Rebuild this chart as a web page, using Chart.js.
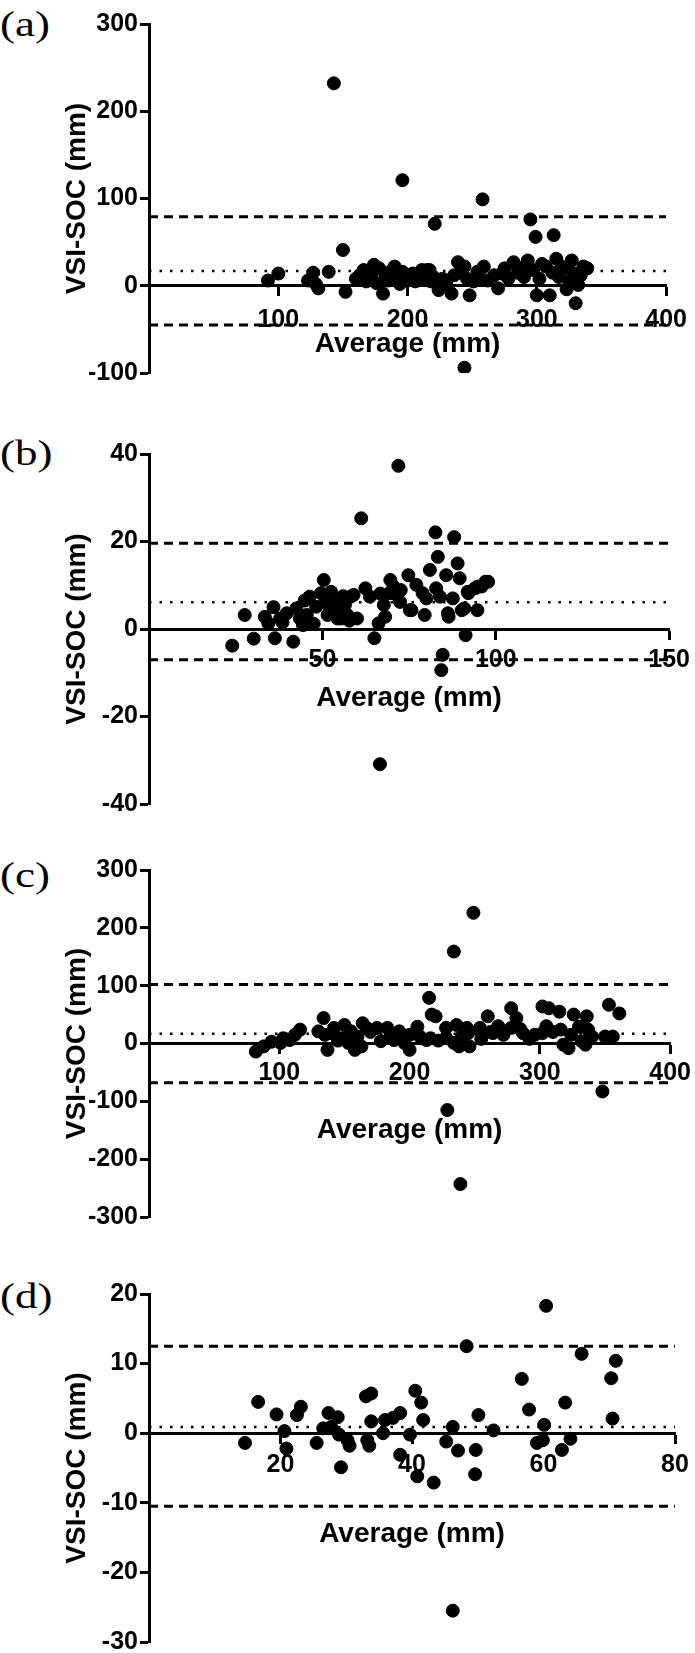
<!DOCTYPE html>
<html><head><meta charset="utf-8">
<script src="https://cdn.jsdelivr.net/npm/chart.js@4.4.1/dist/chart.umd.min.js"></script>
<style>
html,body{margin:0;padding:0;background:#fff;width:695px;height:1653px;overflow:hidden;position:relative;}
canvas{position:absolute;left:0;}
.lbl{position:absolute;left:0;font-family:'Liberation Serif','Times New Roman',serif;font-size:36px;line-height:36px;transform-origin:0 50%;transform:scaleX(1.25);color:#000;white-space:nowrap;}
</style></head><body>
<script>
// ---------- data ----------
const panelLabels = ['(a)', '(b)', '(c)', '(d)'];
const xTitle = 'Average (mm)';
const yTitle = 'VSI-SOC (mm)';

const aXTicks = [0, 100, 200, 300, 400];
const aYTicks = [-100, 0, 100, 200, 300];
const aLines = [79, 17, -45];
const aAvg = [92,100,123,127,131,129,139,143,150,152,160,163,166,168,170,172,174,176,178,181,183,185,188,190,192,194,196,196,199,201,204,206,210,212,215,218,221,211,217,220,224,227,230,234,236,239,241,244,244,246,248,251,254,256,258,259,262,267,270,273,275,278,282,285,287,290,293,295,297,299,300,302,304,307,310,312,313,315,317,319,322,323,325,327,329,330,332,334,336,339];
const aDiff = [6,14,6,15,-3,2,16,232,41,-7,8,12,18,5,10,14,24,3,20,-9,12,6,18,22,8,2,16,121,11,10,14,5,8,12,18,5,71,18,18,10,-5,8,2,-9,12,27,15,22,-94,8,-11,5,16,10,99,22,6,12,-3,14,20,8,27,15,20,10,29,76,18,56,-11,8,25,22,-11,15,58,31,10,22,20,-4,5,29,14,-20,1,12,22,20];

const bXTicks = [0, 50, 100, 150];
const bYTicks = [-40, -20, 0, 20, 40];
const bLines = [19.6, 6.1, -7.0];
const bAvg = [24.0,27.6,30.2,33.4,34.4,35.9,36.3,37.8,38.5,39.7,41.6,42.5,43.5,44.4,44.9,45.5,46.3,47.5,48.2,49.6,50.4,50.9,51.5,52.5,52.9,53.6,54.4,54.8,55.5,56.0,56.5,57.2,57.8,58.2,59.0,60.0,61.2,62.4,63.7,65.0,66.2,66.6,66.7,67.7,68.1,69.4,69.6,70.5,71.4,71.9,72.4,72.6,74.8,75.2,75.7,77.1,78.9,79.5,80.0,81.0,82.6,82.8,83.3,83.9,84.3,84.7,85.7,86.2,86.4,87.6,88.0,89.0,89.6,90.2,90.9,91.3,91.9,92.1,94.0,94.7,94.7,95.9,97.0,97.8];
const bDiff = [-3.8,3.2,-2.2,2.8,1.3,5.0,-2.1,2.4,1.5,3.6,-2.9,4.7,2.4,0.9,6.5,3.2,7.4,1.2,5.1,8.2,11.2,6.0,3.2,8.5,4.0,6.0,2.4,4.7,2.4,7.5,5.5,3.2,1.9,7.4,7.8,2.4,25.3,9.3,7.4,-2.1,1.3,-30.9,8.1,5.5,2.8,8.2,11.2,9.7,7.8,37.3,6.2,8.9,12.3,4.3,4.3,10.1,8.2,3.2,7.0,13.5,22.1,9.3,16.5,7.4,-9.4,-5.9,12.3,3.6,2.8,7.0,21.0,15.0,11.6,4.3,4.7,-1.4,8.5,8.2,9.3,4.3,9.7,9.7,10.8,10.8];

const cXTicks = [0, 100, 200, 300, 400];
const cYTicks = [-300, -200, -100, 0, 100, 200, 300];
const cLines = [102, 17, -68];
const cAvg = [82,88,94,101,103,108,112,116,130,134,135,137,140,142,145,148,150,153,155,158,160,163,164,167,170,175,178,183,185,188,192,196,200,200,206,208,213,215,217,216,220,222,228,228,229,234,234,236,238,239,240,244,245,246,249,254,255,260,262,264,268,272,278,278,282,285,287,292,296,302,302,305,307,310,315,316,318,322,324,326,330,332,335,336,337,340,348,350,353,356,361];
const cDiff = [-14,-5,3,1,9,6,15,24,21,44,15,-11,18,27,5,9,32,1,21,-11,12,-5,35,27,20,27,4,27,10,6,21,1,15,-11,29,12,6,79,50,9,47,5,27,10,-115,1,159,32,-5,-243,12,27,18,-5,226,27,8,47,20,18,30,15,61,27,44,25,18,8,15,64,18,30,61,20,55,24,-2,-8,15,50,29,4,-2,47,24,12,-83,12,67,12,52];

const dXTicks = [0, 20, 40, 60, 80];
const dYTicks = [-30, -20, -10, 0, 10, 20];
const dLines = [12.5, 0.9, -10.5];
const dAvg = [14.6,16.6,19.4,20.6,20.9,22.5,23.1,25.5,26.5,27.3,27.7,28.7,28.9,29.2,30.2,30.5,33.0,33.8,33.2,33.5,33.8,35.6,35.9,37.1,38.2,38.2,39.7,40.5,40.8,41.4,41.7,43.3,45.2,46.2,46.2,47.0,48.3,49.6,49.7,50.1,52.4,56.7,57.8,59.0,59.9,60.1,60.4,62.8,63.3,64.1,65.8,70.3,70.5,71.0];
const dDiff = [-1.4,4.5,2.7,0.3,-2.2,2.6,3.8,-1.4,0.7,2.9,0.9,2.3,-0.2,-4.9,-1.0,-1.8,5.3,5.7,-1.0,-1.8,1.7,0.0,1.9,2.2,2.9,-3.1,-0.2,6.1,-6.2,4.4,1.9,-7.1,-1.2,0.9,-25.5,-2.5,12.5,-5.9,-2.4,2.6,0.4,7.8,3.4,-1.4,-1.0,1.2,18.3,-2.4,4.4,-0.8,11.4,7.9,2.1,10.4];

// ---------- layout (pixels) ----------
const LEFT = 149, RIGHT = 675, CW = 697, PAD = 30, YTITLE_X = 77;
const layoutCfg = [
  {top: 24,   bottom: 373,  labelY: 24,   tickPad: 10, titleOff: 59},
  {top: 454,  bottom: 804,  labelY: 453,  tickPad: 7,  titleOff: 69},
  {top: 870,  bottom: 1217, labelY: 875,  tickPad: 6,  titleOff: 87},
  {top: 1294, bottom: 1642, labelY: 1296, tickPad: 8,  titleOff: 101}
];
const panels = [
  {avg: aAvg, diff: aDiff, lines: aLines, xTicks: aXTicks, yTicks: aYTicks},
  {avg: bAvg, diff: bDiff, lines: bLines, xTicks: bXTicks, yTicks: bYTicks},
  {avg: cAvg, diff: cDiff, lines: cLines, xTicks: cXTicks, yTicks: cYTicks},
  {avg: dAvg, diff: dDiff, lines: dLines, xTicks: dXTicks, yTicks: dYTicks}
];

const FAMILY = "'Liberation Sans', Arial, sans-serif";
const tickFont = {family: FAMILY, size: 25, weight: 'bold', lineHeight: 1.2};
const titleFont = {family: FAMILY, size: 28, weight: 'bold', lineHeight: 1.2};
const lineStyles = [[9, 6], [2.5, 8], [9, 6]];

// vertical axis title drawn without width compression
const yTitlePlugin = {
  id: 'yTitlePlugin',
  afterDraw(chart) {
    const ctx = chart.ctx, a = chart.chartArea;
    ctx.save();
    ctx.translate(YTITLE_X, (a.top + a.bottom) / 2);
    ctx.rotate(-Math.PI / 2);
    ctx.font = 'bold 28px ' + FAMILY;
    ctx.fillStyle = '#000';
    ctx.textAlign = 'center';
    ctx.textBaseline = 'middle';
    ctx.fillText(yTitle, 0, 0);
    ctx.restore();
  }
};

panels.forEach((p, i) => {
  const L = layoutCfg[i];
  const lbl = document.createElement('div');
  lbl.className = 'lbl';
  lbl.textContent = panelLabels[i];
  lbl.style.top = (L.labelY - 18) + 'px';
  document.body.appendChild(lbl);

  const canvas = document.createElement('canvas');
  const h = L.bottom - L.top + 2 * PAD;
  canvas.width = CW; canvas.height = h;
  canvas.style.width = CW + 'px'; canvas.style.height = h + 'px';
  canvas.style.top = (L.top - PAD) + 'px';
  document.body.appendChild(canvas);

  const xMin = p.xTicks[0], xMax = p.xTicks[p.xTicks.length - 1];
  const yMin = p.yTicks[0], yMax = p.yTicks[p.yTicks.length - 1];
  const datasets = [{
    type: 'scatter',
    data: p.avg.map((x, j) => ({x: x, y: p.diff[j]})),
    pointRadius: 6.5, pointHoverRadius: 6.5,
    backgroundColor: '#000', borderColor: '#000', borderWidth: 1,
    order: 0
  }];
  p.lines.forEach((v, k) => {
    datasets.push({
      type: 'line',
      data: [{x: xMin, y: v}, {x: xMax, y: v}],
      borderColor: '#000', borderWidth: k === 1 ? 2.5 : 3,
      borderDash: lineStyles[k], pointRadius: 0, fill: false, order: 1
    });
  });
  const titlePadTop = L.titleOff - (9 + 2 * L.tickPad + 30 + titleFont.size * 1.2 / 2);

  new Chart(canvas, {
    type: 'scatter',
    data: {datasets: datasets},
    plugins: [yTitlePlugin],
    options: {
      responsive: false, animation: false, devicePixelRatio: 1, events: [],
      layout: {padding: {left: 0, right: CW - RIGHT, top: PAD, bottom: PAD}},
      plugins: {legend: {display: false}, tooltip: {enabled: false}},
      scales: {
        x: {
          type: 'linear', position: {y: 0}, min: xMin, max: xMax,
          afterBuildTicks: s => { s.ticks = p.xTicks.map(v => ({value: v})); },
          ticks: {font: tickFont, color: '#000', padding: L.tickPad, maxRotation: 0, autoSkip: false,
                  callback: v => (v === 0 ? '' : String(v))},
          grid: {display: true, drawOnChartArea: false, drawTicks: true, tickLength: 9, tickWidth: 3, color: '#000'},
          border: {display: true, width: 3, color: '#000'},
          title: {display: true, text: xTitle, font: titleFont, color: '#000', padding: {top: titlePadTop, bottom: 0}}
        },
        y: {
          type: 'linear', position: 'left', min: yMin, max: yMax,
          afterBuildTicks: s => { s.ticks = p.yTicks.map(v => ({value: v})); },
          afterFit: s => { s.width = LEFT; },
          ticks: {font: tickFont, color: '#000', padding: 2, autoSkip: false},
          grid: {display: true, drawOnChartArea: false, drawTicks: true, tickLength: 9, tickWidth: 3, color: '#000'},
          border: {display: true, width: 3, color: '#000'},
          title: {display: false}
        }
      }
    }
  });
});
</script>
</body></html>
